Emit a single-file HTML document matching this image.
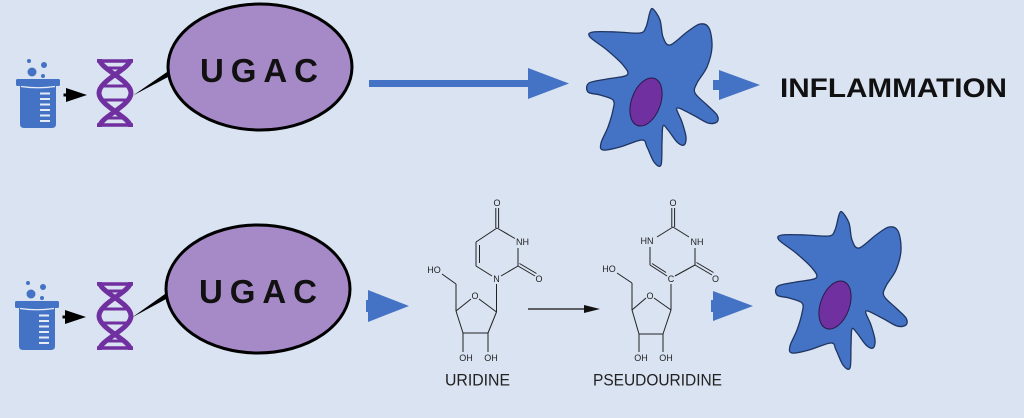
<!DOCTYPE html>
<html>
<head>
<meta charset="utf-8">
<style>
  html,body{margin:0;padding:0;background:#d9e3f2;}
  body{width:1024px;height:418px;overflow:hidden;}
  svg{display:block;}
  .chem{font-family:"Liberation Sans",sans-serif;font-size:9px;fill:#222;}
  .bond{stroke:#222;stroke-width:1;fill:none;}
</style>
</head>
<body>
<svg width="1024" height="418" viewBox="0 0 1024 418" xmlns="http://www.w3.org/2000/svg">
  <rect x="0" y="0" width="1024" height="418" fill="#d9e3f2"/>

  <defs>
    <g id="beaker">
      <circle cx="29" cy="61" r="2" fill="#4472c4"/>
      <circle cx="44" cy="65" r="3" fill="#4472c4"/>
      <circle cx="32" cy="72" r="4.5" fill="#4472c4"/>
      <circle cx="43" cy="76" r="2" fill="#4472c4"/>
      <rect x="16" y="79" width="44" height="7" rx="1.5" fill="#4472c4"/>
      <path d="M20,84 L56,84 L56,124 Q56,128 52,128 L24,128 Q20,128 20,124 Z" fill="#4472c4"/>
      <path d="M21,86.5 Q38,89 55,86.5" stroke="#e6ecf7" stroke-width="1.2" fill="none"/>
      <rect x="40" y="92.5" width="10" height="2" fill="#e6ecf7"/>
      <rect x="40" y="98" width="10" height="2" fill="#e6ecf7"/>
      <rect x="40" y="103.5" width="10" height="2" fill="#e6ecf7"/>
      <rect x="40" y="109" width="10" height="2" fill="#e6ecf7"/>
      <rect x="40" y="114.5" width="10" height="2" fill="#e6ecf7"/>
      <rect x="40" y="120" width="10" height="2" fill="#e6ecf7"/>
    </g>
    <g id="dna" stroke="#7030a0" fill="none">
      <path d="M99.5,59 C99.5,69 131,80 131,93 C131,106 99.5,117 99.5,127" stroke-width="5"/>
      <path d="M130.5,59 C130.5,69 99,80 99,93 C99,106 130.5,117 130.5,127" stroke-width="5"/>
      <line x1="97" y1="61" x2="133" y2="61" stroke-width="3.5"/>
      <line x1="106" y1="68" x2="124" y2="68" stroke-width="3"/>
      <line x1="103" y1="86" x2="127" y2="86" stroke-width="3"/>
      <line x1="103" y1="100" x2="127" y2="100" stroke-width="3"/>
      <line x1="106" y1="118" x2="124" y2="118" stroke-width="3"/>
      <line x1="97" y1="125" x2="133" y2="125" stroke-width="3.5"/>
    </g>
    <g id="cell">
      <path id="cellpath" fill="#4472c4" stroke="#1f3561" stroke-width="1.3" stroke-linejoin="round"
        d="M653,9 L660,20 L663,37 L670,45 L687,32 L700,24 L709,28 L712,47 L707,67 L697,83 L695,93 L707,105 L717,115 L717,122 L708,123 L693,115 L677,108 L682,122 L686,137 L684,145 L677,142 L668,130 L663,126 L662,143 L661,165 L654,162 L647,147 L642,140 L620,147 L603,150 L601,143 L608,127 L613,110 L613,100 L600,95 L588,92 L589,83 L607,79 L627,75 L623,65 L607,50 L590,37 L593,32 L617,32 L640,33 L646,27 L650,12 Z"/>
      <ellipse cx="646" cy="102" rx="14.5" ry="25" transform="rotate(20 646 102)" fill="#7030a0" stroke="#2b1a4a" stroke-width="1"/>
    </g>
  </defs>

  <!-- ============ TOP ROW ============ -->
  <use href="#beaker"/>
  <polygon points="66,88 87,95 66,102" fill="#000"/>
  <rect x="63.5" y="93.5" width="3" height="3" fill="#000"/>
  <use href="#dna"/>
  <polygon points="133,95.5 167,72 169,76.5" fill="#000"/>
  <ellipse cx="260" cy="67" rx="92" ry="63" fill="#a689c7" stroke="#000" stroke-width="3"/>
  <text x="200" y="82" font-family="Liberation Sans, sans-serif" font-weight="bold" font-size="33" fill="#111" textLength="118" lengthAdjust="spacing">UGAC</text>

  <rect x="369" y="80" width="160" height="7" fill="#4472c4"/>
  <polygon points="528,68 569,83.5 528,99" fill="#4472c4"/>

  <use href="#cell"/>

  <rect x="713" y="80" width="7" height="10" fill="#4472c4"/>
  <polygon points="719,70 760,85 719,100" fill="#4472c4"/>

  <text x="780" y="97" font-family="Liberation Sans, sans-serif" font-weight="bold" font-size="27" fill="#111" textLength="227" lengthAdjust="spacingAndGlyphs">INFLAMMATION</text>

  <!-- ============ BOTTOM ROW ============ -->
  <use href="#beaker" transform="translate(-1,222)"/>
  <polygon points="65,310 86,317 65,324" fill="#000"/>
  <rect x="62.5" y="315.5" width="3" height="3" fill="#000"/>
  <use href="#dna" transform="translate(0,223)"/>
  <polygon points="132,317.5 165,294 167,298.5" fill="#000"/>
  <ellipse cx="258" cy="289" rx="92" ry="64" fill="#a689c7" stroke="#000" stroke-width="3"/>
  <text x="199" y="303" font-family="Liberation Sans, sans-serif" font-weight="bold" font-size="33" fill="#111" textLength="118" lengthAdjust="spacing">UGAC</text>

  <rect x="366" y="300" width="4" height="12" fill="#4472c4"/>
  <polygon points="368,290 409,306 368,322" fill="#4472c4"/>

  <!-- Uridine -->
  <g>
    <text class="chem" x="497" y="206" text-anchor="middle">O</text>
    <line class="bond" x1="495.8" y1="208" x2="495.8" y2="228"/>
    <line class="bond" x1="498.6" y1="208" x2="498.6" y2="228"/>
    <line class="bond" x1="497" y1="228" x2="515" y2="238.5"/>
    <text class="chem" x="516" y="245">NH</text>
    <line class="bond" x1="518" y1="248" x2="518" y2="266"/>
    <line class="bond" x1="518" y1="266" x2="535" y2="276"/>
    <line class="bond" x1="519.5" y1="263.5" x2="536.5" y2="273.5"/>
    <text class="chem" x="539" y="282" text-anchor="middle">O</text>
    <line class="bond" x1="518" y1="266" x2="501" y2="276"/>
    <text class="chem" x="496.5" y="282" text-anchor="middle">N</text>
    <line class="bond" x1="492" y1="276" x2="476" y2="266"/>
    <line class="bond" x1="476" y1="266" x2="476" y2="242"/>
    <line class="bond" x1="479.5" y1="263" x2="479.5" y2="245"/>
    <line class="bond" x1="476" y1="242" x2="497" y2="228"/>
    <line class="bond" x1="496.5" y1="284" x2="496.5" y2="312"/>
    <line class="bond" x1="496.5" y1="312" x2="479" y2="299"/>
    <text class="chem" x="475" y="299" text-anchor="middle">O</text>
    <line class="bond" x1="471" y1="299" x2="456" y2="311"/>
    <line class="bond" x1="456" y1="311" x2="463" y2="333"/>
    <line class="bond" x1="463" y1="333" x2="488" y2="333"/>
    <line class="bond" x1="488" y1="333" x2="496.5" y2="312"/>
    <line class="bond" x1="456" y1="311" x2="456" y2="284"/>
    <line class="bond" x1="456" y1="284" x2="442" y2="274"/>
    <text class="chem" x="434" y="273" text-anchor="middle">HO</text>
    <line class="bond" x1="463" y1="333" x2="463" y2="352"/>
    <line class="bond" x1="488" y1="333" x2="488" y2="352"/>
    <text class="chem" x="466" y="361" text-anchor="middle">OH</text>
    <text class="chem" x="491" y="361" text-anchor="middle">OH</text>
  </g>
  <text x="445" y="385.5" font-family="Liberation Sans, sans-serif" font-size="17" fill="#222" textLength="65" lengthAdjust="spacingAndGlyphs">URIDINE</text>

  <!-- reaction arrow -->
  <line x1="528" y1="309" x2="588" y2="309" stroke="#111" stroke-width="1.3"/>
  <polygon points="584,305 600,309 584,313" fill="#111"/>

  <!-- Pseudouridine -->
  <g>
    <text class="chem" x="673" y="206" text-anchor="middle">O</text>
    <line class="bond" x1="671.8" y1="208" x2="671.8" y2="227"/>
    <line class="bond" x1="674.6" y1="208" x2="674.6" y2="227"/>
    <line class="bond" x1="673" y1="227" x2="657" y2="237"/>
    <line class="bond" x1="673" y1="227" x2="689" y2="237"/>
    <text class="chem" x="647" y="244" text-anchor="middle">HN</text>
    <text class="chem" x="697" y="245" text-anchor="middle">NH</text>
    <line class="bond" x1="650" y1="247" x2="650" y2="265"/>
    <line class="bond" x1="695" y1="248" x2="695" y2="265"/>
    <line class="bond" x1="695" y1="265" x2="712" y2="275"/>
    <line class="bond" x1="696.5" y1="262.5" x2="713.5" y2="272.5"/>
    <text class="chem" x="715.5" y="282" text-anchor="middle">O</text>
    <line class="bond" x1="695" y1="265" x2="675" y2="276"/>
    <text class="chem" x="671" y="282" text-anchor="middle">C</text>
    <line class="bond" x1="667" y1="276" x2="650" y2="265"/>
    <line class="bond" x1="666" y1="272.5" x2="652" y2="263.5"/>
    <line class="bond" x1="671" y1="284" x2="671" y2="310"/>
    <line class="bond" x1="671" y1="310" x2="654" y2="298"/>
    <text class="chem" x="650" y="299" text-anchor="middle">O</text>
    <line class="bond" x1="646" y1="298" x2="632" y2="310"/>
    <line class="bond" x1="632" y1="310" x2="639" y2="334"/>
    <line class="bond" x1="639" y1="334" x2="663" y2="334"/>
    <line class="bond" x1="663" y1="334" x2="671" y2="310"/>
    <line class="bond" x1="632" y1="310" x2="632" y2="283"/>
    <line class="bond" x1="632" y1="283" x2="617" y2="273"/>
    <text class="chem" x="609" y="272" text-anchor="middle">HO</text>
    <line class="bond" x1="639" y1="334" x2="639" y2="352"/>
    <line class="bond" x1="663" y1="334" x2="663" y2="352"/>
    <text class="chem" x="641" y="361" text-anchor="middle">OH</text>
    <text class="chem" x="666" y="361" text-anchor="middle">OH</text>
  </g>
  <text x="593" y="385.5" font-family="Liberation Sans, sans-serif" font-size="17" fill="#222" textLength="129" lengthAdjust="spacingAndGlyphs">PSEUDOURIDINE</text>

  <rect x="711" y="300" width="4" height="12" fill="#4472c4"/>
  <polygon points="713,291 753,306 713,321" fill="#4472c4"/>

  <use href="#cell" transform="translate(189,203)"/>
</svg>
<script>
(function(){
  var p=document.getElementById('cellpath');
  if(!p) return;
  var d=p.getAttribute('d');
  var nums=d.match(/-?\d+(\.\d+)?/g).map(Number);
  var pts=[];
  for(var i=0;i<nums.length;i+=2) pts.push([nums[i],nums[i+1]]);
  var n=pts.length;
  var s='M'+pts[0][0]+','+pts[0][1];
  for(var i=0;i<n;i++){
    var p0=pts[(i-1+n)%n],p1=pts[i],p2=pts[(i+1)%n],p3=pts[(i+2)%n];
    var c1x=p1[0]+(p2[0]-p0[0])/6, c1y=p1[1]+(p2[1]-p0[1])/6;
    var c2x=p2[0]-(p3[0]-p1[0])/6, c2y=p2[1]-(p3[1]-p1[1])/6;
    s+=' C'+c1x.toFixed(2)+','+c1y.toFixed(2)+' '+c2x.toFixed(2)+','+c2y.toFixed(2)+' '+p2[0]+','+p2[1];
  }
  s+=' Z';
  p.setAttribute('d',s);
})();
</script>
</body>
</html>
